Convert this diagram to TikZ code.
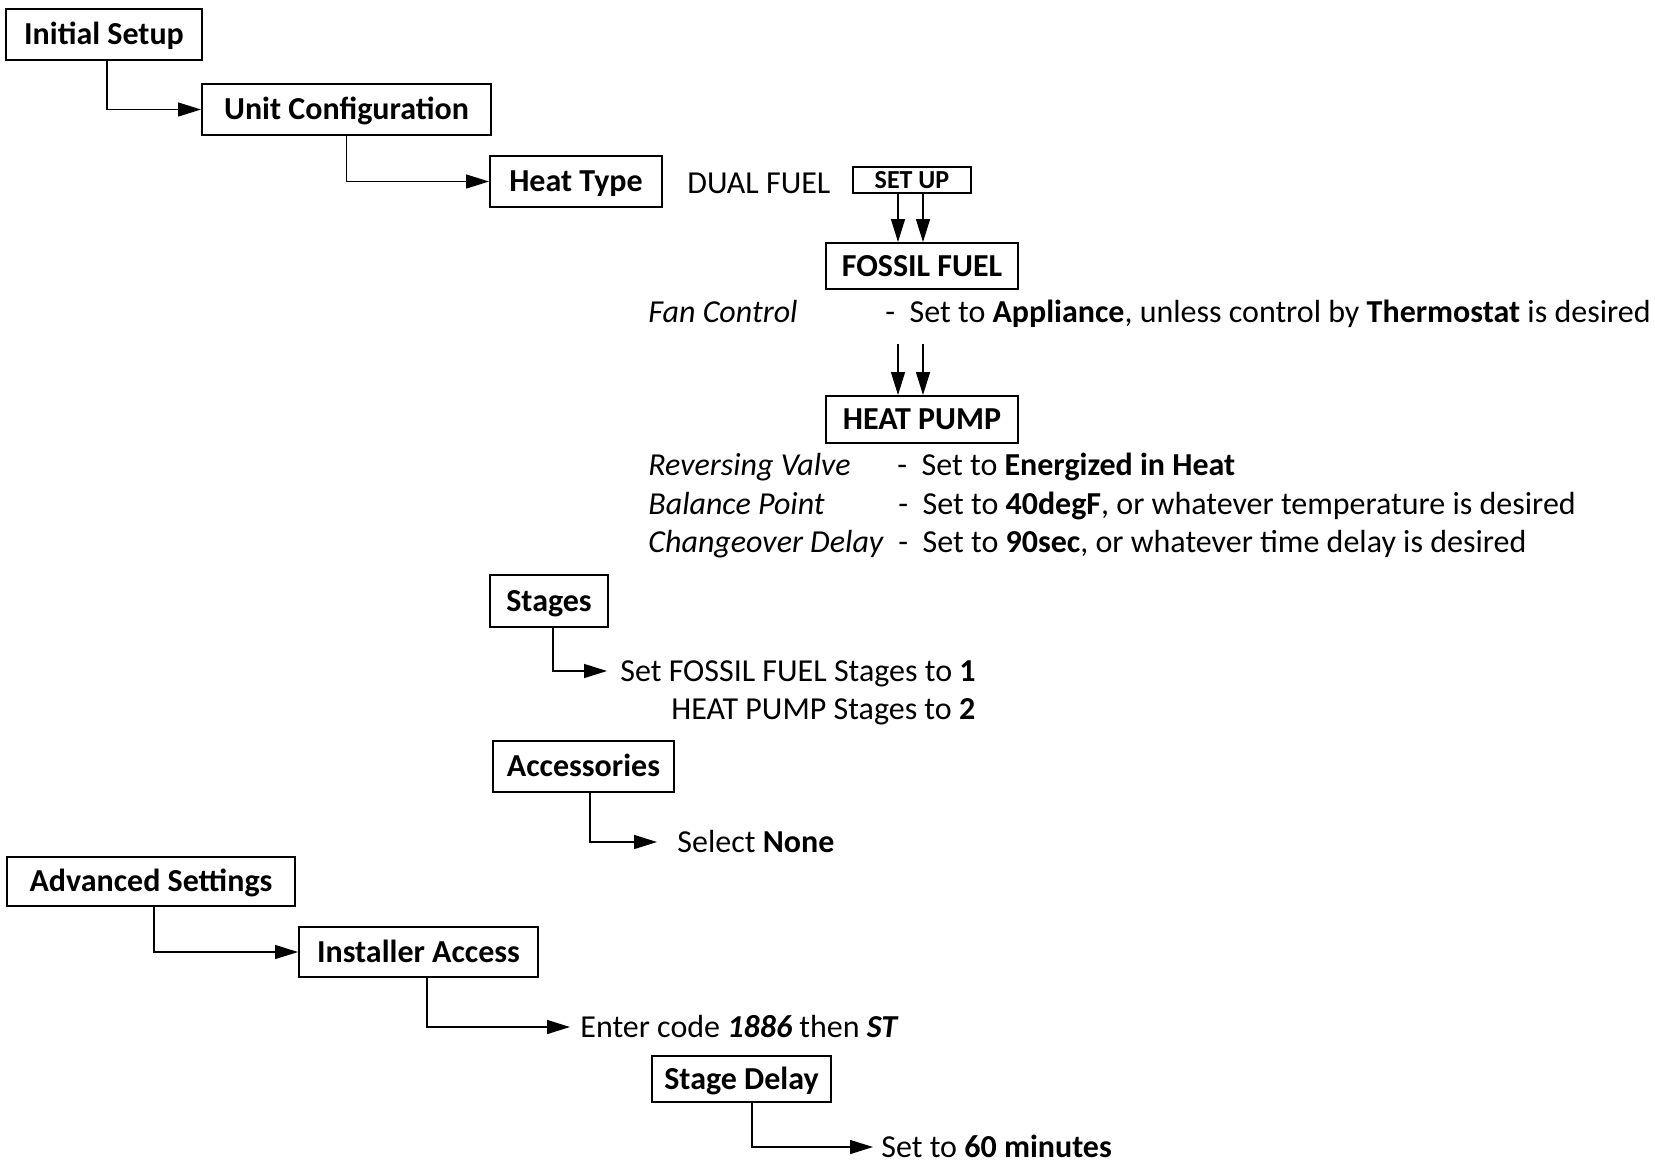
\documentclass[tikz,border=0pt]{standalone}
\usepackage{fontspec}
\setmainfont{Carlito}
\usetikzlibrary{arrows.meta}
\begin{document}
\begin{tikzpicture}[x=0.5pt,y=-0.5pt,
  box/.style={draw, line width=1pt, inner sep=0pt, text height=10.3pt, text depth=0pt,
    font=\bfseries\fontsize{16}{19}\selectfont},
  txt/.style={anchor=west, inner sep=0pt, text height=10.3pt, text depth=0pt,
    font=\fontsize{16}{19}\selectfont},
  conn/.style={line width=0.7pt, -{Triangle[length=11.5pt,width=7pt]}},
]
\useasboundingbox (0,0) rectangle (1655,1163);

% boxes
\node[box, minimum width=98pt, minimum height=25.5pt] (init) at (104,34.5) {Initial Setup};
\node[box, minimum width=144.5pt, minimum height=25.5pt] (unit) at (346.5,109.5) {Unit Configuration};
\node[box, minimum width=86pt, minimum height=25.5pt] (heat) at (576,181.5) {Heat Type};
\node[box, minimum width=59pt, minimum height=13pt, text height=8.4pt,
  font=\bfseries\fontsize{13}{15}\selectfont] (setup) at (912,180) {SET UP};
\node[box, minimum width=96pt, minimum height=23pt] (fossil) at (922,266) {FOSSIL FUEL};
\node[box, minimum width=96pt, minimum height=23.5pt] (hp) at (922,419.5) {HEAT PUMP};
\node[box, minimum width=59pt, minimum height=26pt] (stages) at (549,601) {Stages};
\node[box, minimum width=90.5pt, minimum height=25.5pt] (acc) at (583.5,766.5) {Accessories};
\node[box, minimum width=144pt, minimum height=24.5pt] (adv) at (151,881.5) {Advanced Settings};
\node[box, minimum width=119.5pt, minimum height=25pt] (inst) at (418.5,952) {Installer Access};
\node[box, minimum width=89.5pt, minimum height=23pt] (delay) at (741.5,1079) {Stage Delay};

% texts
\node[txt] (dual) at (687,183) {DUAL FUEL};
\node[txt] (fan) at (648,312) {\textit{Fan Control}};
\node[txt] (fanset) at (885,312) {-~~Set to \textbf{Appliance}, unless control by \textbf{Thermostat} is desired};
\node[txt] (rv) at (648,465) {\textit{Reversing Valve}};
\node[txt] (rvset) at (897,465) {-~~Set to \textbf{Energized in Heat}};
\node[txt] (bp) at (648,504) {\textit{Balance Point}};
\node[txt] (bpset) at (898,504) {-~~Set to \textbf{40degF}, or whatever temperature is desired};
\node[txt] (cd) at (648,542) {\textit{Changeover Delay}};
\node[txt] (cdset) at (898,542) {-~~Set to \textbf{90sec}, or whatever time delay is desired};
\node[txt] (st1) at (620,671) {Set FOSSIL FUEL Stages to \textbf{1}};
\node[txt] (st2) at (671,709) {HEAT PUMP Stages to \textbf{2}};
\node[txt] (sel) at (677,842) {Select \textbf{None}};
\node[txt] (enter) at (580,1027) {Enter code \textbf{\textit{1886}} then \textbf{\textit{ST}}};
\node[txt] (set60) at (881,1147) {Set to \textbf{60 minutes}};

% connectors
\draw[conn] ([xshift=1.5pt]init.south) |- (unit.west);
\draw[conn] (unit.south) |- (heat.west);
\draw[conn] ([xshift=-7pt]setup.south) -- ([xshift=-7pt]setup.south |- fossil.north);
\draw[conn] ([xshift=5.5pt]setup.south) -- ([xshift=5.5pt]setup.south |- fossil.north);
\coordinate (hpa) at (898,344);
\coordinate (hpb) at (923,344);
\draw[conn] (hpa) -- (hpa |- hp.north);
\draw[conn] (hpb) -- (hpb |- hp.north);
\draw[conn, shorten >=6.5pt] ([xshift=2pt]stages.south) |- (st1.west);
\draw[conn, shorten >=10pt] ([xshift=3.25pt]acc.south) |- (sel.west);
\draw[conn] ([xshift=1.5pt]adv.south) |- (inst.west);
\draw[conn, shorten >=5pt] ([xshift=4.25pt]inst.south) |- (enter.west);
\draw[conn, shorten >=4pt] ([xshift=5.25pt]delay.south) |- (set60.west);
\end{tikzpicture}
\end{document}
